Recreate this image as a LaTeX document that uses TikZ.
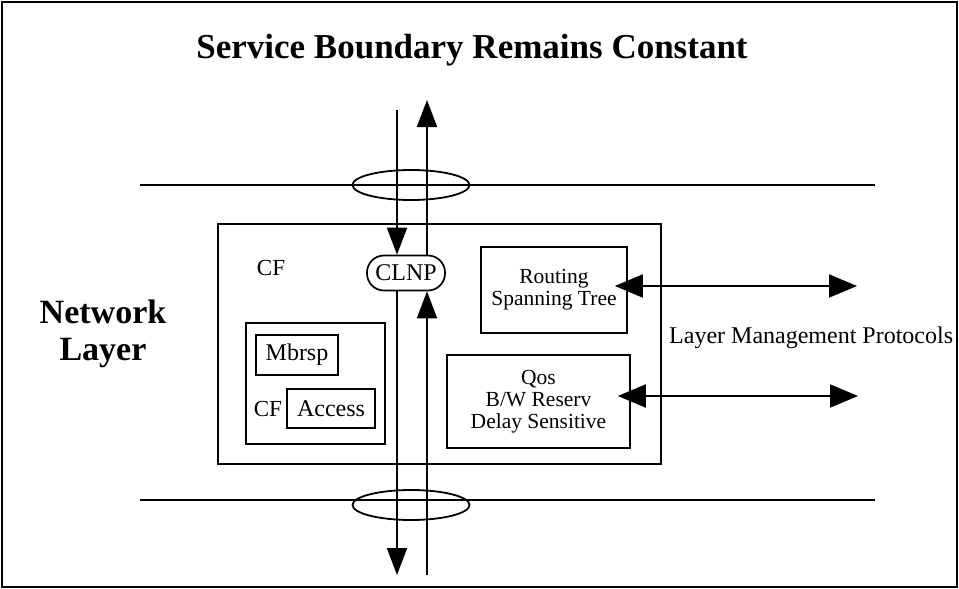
\documentclass[tikz,border=0pt]{standalone}
\usepackage{fontspec}
\setmainfont{Liberation Serif}
\usetikzlibrary{positioning,arrows.meta,shapes.geometric,calc}
\tikzset{
  line/.style  = {-{Triangle[length=27pt,width=20pt]}, line width=1.9pt},
  dline/.style = {{Triangle[length=28pt,width=23pt]}-{Triangle[length=28pt,width=23pt]}, line width=1.9pt},
  box/.style   = {draw, line width=1.7pt, align=center, inner sep=0pt},
  bound/.style = {line width=2.2pt},
  ring/.style  = {draw, ellipse, line width=1.8pt, minimum width=117pt, minimum height=30pt, inner sep=0pt},
  txt/.style   = {font=\fontsize{21.5}{22}\selectfont},
  lbl/.style   = {font=\fontsize{24}{26}\selectfont},
}

\begin{document}
\begin{tikzpicture}[x=1pt, y=-1pt]
  \useasboundingbox (0,0) rectangle (959,589);
  \draw[line width=1.7pt] (2,2) rectangle (957,587);
  \node[font=\bfseries\fontsize{35}{38}\selectfont] (title) at (472,50) {Service Boundary Remains Constant};
  \node[font=\bfseries\fontsize{34}{37}\selectfont, align=center] (net) at (103,334) {Network\\Layer};
  % service boundaries
  \coordinate (bndTL) at (140,185);
  \coordinate (bndTR) at (875,185);
  \coordinate (bndBL) at (140,500);
  \coordinate (bndBR) at (875,500);
  \draw[bound] (bndTL) -- (bndTR);
  \draw[bound] (bndBL) -- (bndBR);
  \node[ring] (topring) at (411,185) {};
  \node[ring] (botring) at (411,505) {};
  % layer entity
  \node[box, minimum width=443pt, minimum height=240pt] (cfbox) at (439.5,344) {};
  \node[font=\fontsize{23}{25}\selectfont] (cf) at (271,268) {CF};
  \node[box, lbl, rounded corners=17pt, minimum width=78pt, minimum height=35pt, fill=white] (clnp) at (406,273) {CLNP};
  \node[box, minimum width=139pt, minimum height=121pt] (grp) at (315.5,383.5) {};
  \node[box, lbl, minimum width=82pt, minimum height=40pt] (mbrsp) at (297,355) {Mbrsp};
  \node[box, lbl, minimum width=88pt, minimum height=39pt] (access) at (331,408.5) {Access};
  \node[font=\fontsize{23}{25}\selectfont, inner sep=0pt, left=4pt of access] (cfsub) {CF};
  \node[box, txt, minimum width=146pt, minimum height=86pt] (routing) at (554,290) {Routing\\Spanning Tree};
  \node[box, txt, minimum width=183pt, minimum height=93pt] (qos) at (538.5,401.5) {Qos\\B/W Reserv\\Delay Sensitive};
  \node[lbl, anchor=west, inner sep=0pt] (lmp) at (669,338) {Layer Management Protocols};
  % data path through CLNP
  \coordinate (dnTop) at (397,110);
  \coordinate (dnBot) at (397,575);
  \coordinate (upTop) at (427,100);
  \coordinate (upBot) at (427,575);
  \draw[line] (dnTop) -- (dnTop |- clnp.north);
  \draw[line] (dnTop |- clnp.south) -- (dnBot);
  \draw[line] (upBot) -- (upBot |- clnp.south);
  \draw[line] (upBot |- clnp.north) -- (upTop);
  % management flows
  \coordinate (mgA) at (857,286);
  \coordinate (mgB) at (858,396);
  \draw[dline, shorten <=-13pt] (routing.east |- mgA) -- (mgA);
  \draw[dline, shorten <=-13pt] (qos.east |- mgB) -- (mgB);
\end{tikzpicture}
\end{document}
